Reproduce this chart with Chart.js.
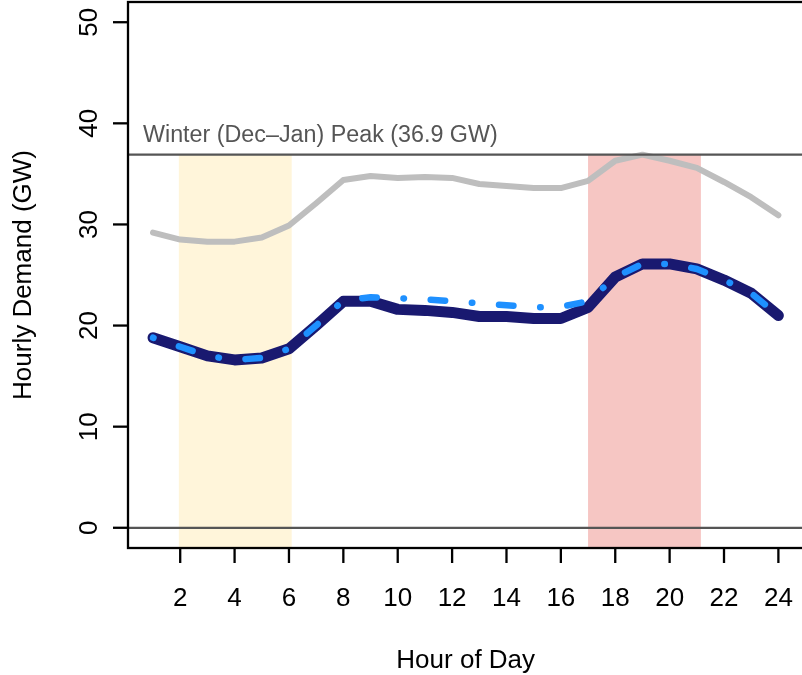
<!DOCTYPE html>
<html lang="en">
<head>
<meta charset="UTF-8">
<title>Hourly Demand</title>
<script src="https://cdn.jsdelivr.net/npm/chart.js"></script>
<style>
  html, body { margin: 0; padding: 0; overflow: hidden; background: #fff; }
  canvas { display: block; }
</style>
</head>
<body>
<canvas id="myChart" width="806" height="675"></canvas>
<script>
// hour of day 1..24
const hours = [1, 2, 3, 4, 5, 6, 7, 8, 9, 10, 11, 12, 13, 14, 15, 16, 17, 18, 19, 20, 21, 22, 23, 24];
// winter (Dec-Jan) peak day, GW
const winterPeakDay = [29.2, 28.5, 28.3, 28.3, 28.7, 29.9, 32.1, 34.4, 34.8, 34.6, 34.7, 34.6,
                       34.0, 33.8, 33.6, 33.6, 34.3, 36.3, 36.9, 36.3, 35.6, 34.2, 32.7, 30.9];
// average day, GW
const typicalDay = [18.8, 17.9, 17.0, 16.6, 16.8, 17.7, 20.0, 22.4, 22.4, 21.6, 21.5, 21.3,
                    20.9, 20.9, 20.7, 20.7, 21.8, 24.8, 26.1, 26.1, 25.6, 24.5, 23.2, 21.0];
// shifted day, GW
const shiftedDay = [18.8, 17.9, 17.0, 16.6, 16.8, 17.7, 20.0, 22.5, 22.8, 22.7, 22.6, 22.4,
                    22.2, 22.0, 21.8, 21.85, 22.4, 24.8, 26.1, 26.1, 25.6, 24.5, 23.2, 21.0];
const peakGW = 36.9;
const peakLabel = 'Winter (Dec\u2013Jan) Peak (36.9 GW)';
const offPeakWindow = [1.95, 6.1];
const peakWindow = [17.0, 21.15];
const xTicks = [2, 4, 6, 8, 10, 12, 14, 16, 18, 20, 22, 24];
const yTicks = [0, 10, 20, 30, 40, 50];
const xLimits = [0.08, 24.92];
const yLimits = [-2, 52];

const FONT = '"Liberation Sans", Arial, Helvetica, sans-serif';

const toPoints = vals => vals.map((v, i) => ({x: hours[i], y: v}));
const hline = v => [{x: xLimits[0], y: v}, {x: xLimits[1], y: v}];

// base-R look: shaded windows, box, ticks, labels
const rStyle = {
    id: 'rStyle',
    beforeDatasetsDraw(chart) {
        const {ctx, chartArea: a, scales: {x, y}} = chart;
        ctx.save();
        ctx.beginPath();
        ctx.rect(a.left, a.top, a.right - a.left, a.bottom - a.top);
        ctx.clip();
        const top = y.getPixelForValue(peakGW);
        const shade = (win, col) => {
            const x0 = x.getPixelForValue(win[0]);
            const x1 = x.getPixelForValue(win[1]);
            ctx.fillStyle = col;
            ctx.fillRect(x0, top, x1 - x0, a.bottom - top);
        };
        shade(offPeakWindow, '#FFF5DA');
        shade(peakWindow, '#F6C6C3');
        ctx.restore();
    },
    afterDraw(chart) {
        const {ctx, chartArea: a, scales: {x, y}} = chart;
        ctx.save();
        ctx.strokeStyle = '#000';
        ctx.lineWidth = 2.3;
        ctx.strokeRect(a.left, a.top, a.right - a.left, a.bottom - a.top);

        ctx.fillStyle = '#000';
        ctx.font = '26px ' + FONT;
        // x axis
        ctx.textAlign = 'center';
        ctx.textBaseline = 'alphabetic';
        xTicks.forEach(t => {
            const px = x.getPixelForValue(t);
            ctx.beginPath();
            ctx.moveTo(px, a.bottom);
            ctx.lineTo(px, a.bottom + 15);
            ctx.stroke();
            ctx.fillText(String(t), px, 606);
        });
        ctx.fillText('Hour of Day', (a.left + a.right) / 2, 667.5);

        // y axis
        yTicks.forEach(t => {
            const py = y.getPixelForValue(t);
            ctx.beginPath();
            ctx.moveTo(a.left, py);
            ctx.lineTo(a.left - 15, py);
            ctx.stroke();
            ctx.save();
            ctx.translate(97, py);
            ctx.rotate(-Math.PI / 2);
            ctx.fillText(String(t), 0, 0);
            ctx.restore();
        });
        ctx.save();
        ctx.translate(31, (a.top + a.bottom) / 2);
        ctx.rotate(-Math.PI / 2);
        ctx.fillText('Hourly Demand (GW)', 0, 0);
        ctx.restore();

        // peak annotation
        ctx.fillStyle = '#555';
        ctx.font = '23.3px ' + FONT;
        ctx.textAlign = 'left';
        ctx.fillText(peakLabel, a.left + 15, y.getPixelForValue(peakGW) - 12.5);
        ctx.restore();
    }
};

new Chart(document.getElementById('myChart'), {
    type: 'line',
    data: {
        datasets: [{
            label: 'Shifted',
            data: toPoints(shiftedDay),
            borderColor: '#1E90FF',
            borderWidth: 6.5,
            borderDash: [0.5, 26.75, 14.5, 26.75],
            borderCapStyle: 'round',
            borderJoinStyle: 'round',
            pointRadius: 0,
            order: 0
        }, {
            label: 'Average',
            data: toPoints(typicalDay),
            borderColor: '#191970',
            borderWidth: 11,
            borderCapStyle: 'round',
            borderJoinStyle: 'round',
            pointRadius: 0,
            order: 1
        }, {
            label: 'Peak line',
            data: hline(peakGW),
            borderColor: '#555',
            borderWidth: 2.2,
            pointRadius: 0,
            order: 2
        }, {
            label: 'Zero line',
            data: hline(0),
            borderColor: '#555',
            borderWidth: 2.2,
            pointRadius: 0,
            order: 3
        }, {
            label: 'Winter peak day',
            data: toPoints(winterPeakDay),
            borderColor: '#BEBEBE',
            borderWidth: 6,
            borderCapStyle: 'round',
            borderJoinStyle: 'round',
            pointRadius: 0,
            order: 4
        }]
    },
    options: {
        responsive: false,
        animation: false,
        events: [],
        layout: {padding: {left: 128, top: 2, right: 2.6, bottom: 127}},
        scales: {
            x: {type: 'linear', min: xLimits[0], max: xLimits[1], display: false},
            y: {type: 'linear', min: yLimits[0], max: yLimits[1], display: false}
        },
        plugins: {legend: {display: false}, tooltip: {enabled: false}}
    },
    plugins: [rStyle]
});
</script>
</body>
</html>
